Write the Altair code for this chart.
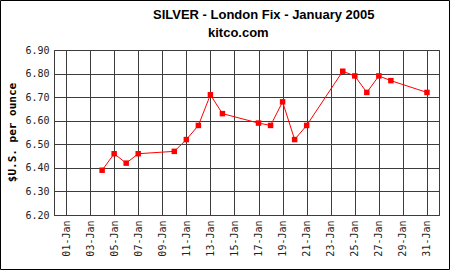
import altair as alt
import pandas as pd

# Data (January 2005, day of month -> London fix price)
days = [4, 5, 6, 7, 10, 11, 12, 13, 14, 17, 18, 19, 20, 21, 24, 25, 26, 27, 28, 31]
prices = [6.39, 6.46, 6.42, 6.46, 6.47, 6.52, 6.58, 6.71, 6.63, 6.59,
          6.58, 6.68, 6.52, 6.58, 6.81, 6.79, 6.72, 6.79, 6.77, 6.72]

tick_days = [1, 3, 5, 7, 9, 11, 13, 15, 17, 19, 21, 23, 25, 27, 29, 31]
tick_labels = ["01-Jan", "03-Jan", "05-Jan", "07-Jan", "09-Jan", "11-Jan",
               "13-Jan", "15-Jan", "17-Jan", "19-Jan", "21-Jan", "23-Jan",
               "25-Jan", "27-Jan", "29-Jan", "31-Jan"]
y_ticks = [6.20, 6.30, 6.40, 6.50, 6.60, 6.70, 6.80, 6.90]

title_text = "SILVER - London Fix - January 2005"
subtitle_text = "kitco.com"
y_title = "$U.S. per ounce"

df = pd.DataFrame({"day": days, "price": prices})

label_map = "{" + ",".join(f"'{d}':'{l}'" for d, l in zip(tick_days, tick_labels)) + "}"
label_expr = f"{label_map}[''+datum.value]"

GRID = "#3c3c3c"

x_enc = alt.X(
    "day:Q",
    scale=alt.Scale(domain=[0, 32], nice=False, zero=False),
    axis=alt.Axis(
        values=tick_days,
        labelExpr=label_expr,
        labelAngle=270,
        labelFont="DejaVu Sans Mono",
        labelFontSize=10,
        labelColor="#222222",
        labelPadding=5,
        labelOverlap=False,
        labelFlush=False,
        labelBound=False,
        ticks=False,
        grid=True,
        gridColor=GRID,
        gridOpacity=1,
        gridWidth=1,
        domainColor=GRID,
        title=None,
    ),
)
y_enc = alt.Y(
    "price:Q",
    scale=alt.Scale(domain=[6.2, 6.9], nice=False, zero=False),
    axis=alt.Axis(
        values=y_ticks,
        format=".2f",
        labelFont="DejaVu Sans Mono",
        labelFontSize=10,
        labelColor="#222222",
        labelPadding=5,
        labelOverlap=False,
        labelFlush=False,
        labelBound=False,
        ticks=False,
        grid=True,
        gridColor=GRID,
        gridOpacity=1,
        gridWidth=1,
        domainColor=GRID,
        title=y_title,
        titleFont="DejaVu Sans Mono",
        titleFontSize=11,
        titleFontWeight="bold",
        titleColor="#000000",
        titleAngle=270,
        titleX=-42,
        titleY=82,
        titleAlign="center",
        titleBaseline="middle",
    ),
)

base = alt.Chart(df).encode(x=x_enc, y=y_enc)
line = base.mark_line(color="#ff0000", strokeWidth=1)
points = base.mark_point(shape="square", filled=True, color="#ff0000", size=30, opacity=1)

titles = pd.DataFrame({"t": [title_text]})
subs = pd.DataFrame({"t": [subtitle_text]})
title_mark = alt.Chart(titles).mark_text(
    font="Liberation Sans", fontSize=13, fontWeight="bold", align="left",
    baseline="alphabetic", color="#000000"
).encode(x=alt.value(99), y=alt.value(-31), text="t:N")
sub_mark = alt.Chart(subs).mark_text(
    font="Liberation Sans", fontSize=13, fontWeight="bold", align="left",
    baseline="alphabetic", color="#000000"
).encode(x=alt.value(154), y=alt.value(-13), text="t:N")

frame = alt.Chart(titles).mark_rect(
    filled=False, stroke="#000000", strokeWidth=1
).encode(x=alt.value(-53.5), x2=alt.value(395.5), y=alt.value(-49.5), y2=alt.value(219.5))

chart = alt.layer(line, points, title_mark, sub_mark, frame).properties(
    width=385,
    height=165,
    autosize=alt.AutoSizeParams(type="none"),
    padding={"left": 54, "top": 50, "right": 11, "bottom": 55},
    background="#ffffff",
).configure_view(stroke=GRID, strokeWidth=1)

chart.save("out.html", embed_options={"renderer": "svg", "actions": False})
